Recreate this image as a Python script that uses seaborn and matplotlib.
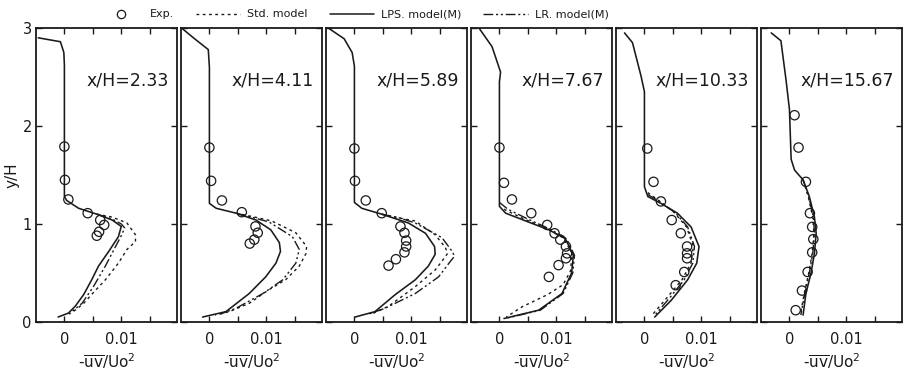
import matplotlib
matplotlib.use("Agg")
import matplotlib.pyplot as plt
from matplotlib.lines import Line2D
import seaborn as sns
import pandas as pd

# ---------------- data ----------------
stations = ["2.33", "4.11", "5.89", "7.67", "10.33", "15.67"]

# x/H = 2.33
lps_x_1 = [-0.0046, -0.0007, -0.0001, 0.0, 0.0, 0.0004, 0.0025, 0.0057, 0.0084, 0.0100, 0.0095, 0.0078, 0.0060, 0.0048, 0.0034, 0.0019, 0.0007, -0.0011]
lps_y_1 = [2.90, 2.86, 2.75, 2.62, 1.28, 1.24, 1.16, 1.10, 1.04, 0.975, 0.87, 0.72, 0.57, 0.43, 0.28, 0.16, 0.09, 0.05]
std_x_1 = [0.0057, 0.0084, 0.0110, 0.0125, 0.0125, 0.0110, 0.0095, 0.0072, 0.0051, 0.0034, 0.0019, 0.0008]
std_y_1 = [1.10, 1.07, 1.01, 0.89, 0.82, 0.74, 0.60, 0.43, 0.30, 0.19, 0.12, 0.08]
lr_x_1 = [0.0057, 0.0084, 0.0100, 0.0106, 0.0100, 0.0090, 0.0072, 0.0051, 0.0031, 0.0013]
lr_y_1 = [1.10, 1.05, 1.00, 0.96, 0.88, 0.77, 0.57, 0.36, 0.19, 0.105]
exp_x_1 = [0.0, 0.0001, 0.0007, 0.0041, 0.0063, 0.0070, 0.0061, 0.0057]
exp_y_1 = [1.79, 1.45, 1.25, 1.11, 1.04, 0.99, 0.92, 0.88]

# x/H = 4.11
lps_x_2 = [-0.0049, -0.0026, -0.0002, 0.0, 0.0, 0.0012, 0.0047, 0.0082, 0.0108, 0.0123, 0.0125, 0.0117, 0.0099, 0.0070, 0.0029, -0.0012]
lps_y_2 = [3.00, 2.89, 2.78, 2.60, 1.21, 1.16, 1.11, 1.04, 0.94, 0.81, 0.72, 0.60, 0.46, 0.29, 0.105, 0.05]
std_x_2 = [0.0047, 0.0080, 0.0110, 0.0152, 0.0171, 0.0170, 0.0158, 0.0134, 0.0105, 0.0070, 0.0035, 0.0010]
std_y_2 = [1.11, 1.07, 1.03, 0.91, 0.77, 0.70, 0.57, 0.43, 0.33, 0.19, 0.105, 0.07]
lr_x_2 = [0.0047, 0.0080, 0.0105, 0.0146, 0.0158, 0.0152, 0.0129, 0.0094, 0.0047, 0.0019]
lr_y_2 = [1.11, 1.06, 1.02, 0.87, 0.74, 0.60, 0.43, 0.29, 0.14, 0.08]
exp_x_2 = [0.0, 0.0003, 0.0022, 0.0057, 0.0081, 0.0085, 0.0079, 0.0071]
exp_y_2 = [1.78, 1.44, 1.24, 1.12, 0.975, 0.91, 0.84, 0.80]

# x/H = 5.89
lps_x_3 = [-0.0046, -0.0018, -0.0004, 0.0, 0.0, 0.0013, 0.0048, 0.0095, 0.0125, 0.0141, 0.0142, 0.0130, 0.0107, 0.0072, 0.0036, 0.0001]
lps_y_3 = [3.00, 2.89, 2.75, 2.61, 1.22, 1.16, 1.10, 1.01, 0.905, 0.77, 0.69, 0.57, 0.43, 0.28, 0.105, 0.05]
std_x_3 = [0.0048, 0.0080, 0.0107, 0.0142, 0.0160, 0.0164, 0.0154, 0.0142, 0.0107, 0.0060, 0.0030]
std_y_3 = [1.10, 1.06, 1.03, 0.89, 0.76, 0.70, 0.62, 0.53, 0.36, 0.16, 0.08]
lr_x_3 = [0.0048, 0.0080, 0.0107, 0.0154, 0.0172, 0.0176, 0.0169, 0.0148, 0.0107, 0.0054, 0.0025]
lr_y_3 = [1.10, 1.06, 1.01, 0.86, 0.72, 0.67, 0.62, 0.46, 0.29, 0.14, 0.08]
exp_x_3 = [0.0, 0.0001, 0.0020, 0.0048, 0.0081, 0.0088, 0.0091, 0.0091, 0.0088, 0.0073, 0.0060]
exp_y_3 = [1.77, 1.44, 1.24, 1.11, 0.975, 0.91, 0.83, 0.77, 0.71, 0.64, 0.575]

# x/H = 7.67
lps_x_4 = [-0.0036, -0.0013, 0.0002, 0.0, 0.0, 0.0011, 0.0051, 0.0087, 0.0116, 0.0130, 0.0127, 0.0110, 0.0069, 0.0008]
lps_y_4 = [3.00, 2.81, 2.55, 2.45, 1.18, 1.11, 1.02, 0.94, 0.85, 0.68, 0.50, 0.29, 0.12, 0.035]
std_x_4 = [0.0008, 0.0040, 0.0080, 0.0112, 0.0128, 0.0125, 0.0112, 0.0085, 0.0060, 0.0040, 0.0012]
std_y_4 = [1.15, 1.06, 0.96, 0.86, 0.70, 0.52, 0.38, 0.28, 0.21, 0.155, 0.05]
lr_x_4 = [0.0, 0.0015, 0.0050, 0.0088, 0.0118, 0.0132, 0.0129, 0.0112, 0.0072, 0.0010]
lr_y_4 = [1.22, 1.15, 1.05, 0.95, 0.85, 0.68, 0.50, 0.29, 0.12, 0.035]
exp_x_4 = [0.0, 0.0008, 0.0022, 0.0056, 0.0084, 0.0097, 0.0107, 0.0117, 0.0119, 0.0117, 0.0104, 0.0087]
exp_y_4 = [1.78, 1.42, 1.25, 1.11, 0.99, 0.905, 0.84, 0.77, 0.70, 0.65, 0.58, 0.46]

# x/H = 10.33
lps_x_5 = [-0.0035, -0.0021, -0.0006, 0.0, 0.0, 0.0006, 0.0029, 0.0058, 0.0082, 0.0096, 0.0092, 0.0076, 0.0047, 0.0018]
lps_y_5 = [2.95, 2.85, 2.51, 2.35, 1.38, 1.28, 1.21, 1.11, 0.97, 0.77, 0.60, 0.43, 0.22, 0.05]
std_x_5 = [0.0006, 0.0025, 0.0052, 0.0074, 0.0086, 0.0082, 0.0066, 0.0040, 0.0015]
std_y_5 = [1.32, 1.24, 1.12, 0.97, 0.77, 0.60, 0.43, 0.25, 0.08]
lr_x_5 = [0.0006, 0.0029, 0.0055, 0.0076, 0.0088, 0.0085, 0.0070, 0.0045, 0.0020]
lr_y_5 = [1.30, 1.22, 1.11, 0.97, 0.77, 0.60, 0.43, 0.25, 0.08]
exp_x_5 = [0.0005, 0.0016, 0.0029, 0.0048, 0.0064, 0.0075, 0.0075, 0.0075, 0.0070, 0.0055]
exp_y_5 = [1.77, 1.43, 1.23, 1.04, 0.905, 0.77, 0.70, 0.65, 0.51, 0.375]

# x/H = 15.67
lps_x_6 = [-0.0032, -0.0015, -0.0006, 0.0, 0.0003, 0.0009, 0.0024, 0.0035, 0.0044, 0.0047, 0.0044, 0.0038, 0.0029, 0.0024]
lps_y_6 = [2.95, 2.87, 2.47, 2.17, 1.66, 1.55, 1.45, 1.28, 1.07, 0.905, 0.70, 0.50, 0.29, 0.07]
std_x_6 = [0.0024, 0.0033, 0.0041, 0.0043, 0.0040, 0.0034, 0.0026, 0.0020]
std_y_6 = [1.45, 1.28, 1.07, 0.905, 0.70, 0.50, 0.29, 0.10]
lr_x_6 = [0.0024, 0.0034, 0.0042, 0.0044, 0.0041, 0.0035, 0.0027, 0.0020]
lr_y_6 = [1.45, 1.28, 1.07, 0.905, 0.70, 0.50, 0.29, 0.07]
exp_x_6 = [0.0009, 0.0016, 0.0029, 0.0036, 0.0040, 0.0042, 0.0040, 0.0032, 0.0022, 0.0011]
exp_y_6 = [2.11, 1.78, 1.43, 1.11, 0.97, 0.845, 0.71, 0.51, 0.32, 0.12]

x_ticks = [0, 0.005, 0.01, 0.015]
x_tick_labels = ["0", "", "0.01", ""]
y_ticks = [0, 1, 2, 3]
y_tick_labels = ["0", "1", "2", "3"]

lps_x = [lps_x_1, lps_x_2, lps_x_3, lps_x_4, lps_x_5, lps_x_6]
lps_y = [lps_y_1, lps_y_2, lps_y_3, lps_y_4, lps_y_5, lps_y_6]
std_x = [std_x_1, std_x_2, std_x_3, std_x_4, std_x_5, std_x_6]
std_y = [std_y_1, std_y_2, std_y_3, std_y_4, std_y_5, std_y_6]
lr_x = [lr_x_1, lr_x_2, lr_x_3, lr_x_4, lr_x_5, lr_x_6]
lr_y = [lr_y_1, lr_y_2, lr_y_3, lr_y_4, lr_y_5, lr_y_6]
exp_x = [exp_x_1, exp_x_2, exp_x_3, exp_x_4, exp_x_5, exp_x_6]
exp_y = [exp_y_1, exp_y_2, exp_y_3, exp_y_4, exp_y_5, exp_y_6]

# ---------------- styling ----------------
sns.set_theme(style="ticks")
plt.rcParams['font.family'] = ['DejaVu Sans']
plt.rcParams['mathtext.fontset'] = 'dejavusans'
plt.rcParams['text.color'] = 'black'
plt.rcParams['axes.labelcolor'] = 'black'
plt.rcParams['xtick.color'] = 'black'
plt.rcParams['ytick.color'] = 'black'

STD_LS = (0, (2.0, 2.5))
LR_LS = (0, (7, 2, 1.5, 2, 1.5, 2))

fig, axes = plt.subplots(1, 6, figsize=(9.06, 3.81), dpi=100, sharey=True)
fig.subplots_adjust(left=0.0397, right=0.9956, bottom=0.155, top=0.9265, wspace=0.0284)

for i, ax in enumerate(axes):
    d_lps = pd.DataFrame({"x": lps_x[i], "y": lps_y[i]})
    d_std = pd.DataFrame({"x": std_x[i], "y": std_y[i]})
    d_lr = pd.DataFrame({"x": lr_x[i], "y": lr_y[i]})
    d_exp = pd.DataFrame({"x": exp_x[i], "y": exp_y[i]})

    sns.lineplot(data=d_std, x="x", y="y", sort=False, estimator=None, ax=ax,
                 color="k", linewidth=1.0, linestyle=STD_LS)
    sns.lineplot(data=d_lr, x="x", y="y", sort=False, estimator=None, ax=ax,
                 color="k", linewidth=1.0, linestyle=LR_LS)
    sns.lineplot(data=d_lps, x="x", y="y", sort=False, estimator=None, ax=ax,
                 color="k", linewidth=1.15)
    sns.scatterplot(data=d_exp, x="x", y="y", ax=ax, marker="o", s=45,
                    facecolor="none", edgecolor="k", linewidth=0.9, zorder=3)

    ax.set_xlim(-0.0050, 0.0198)
    ax.set_ylim(0, 3)
    ax.set_xticks(x_ticks)
    ax.set_xticklabels(x_tick_labels)
    ax.set_yticks(y_ticks)
    ax.set_yticklabels(y_tick_labels)
    ax.tick_params(axis="both", direction="in", top=True, right=True,
                   length=4, width=1.0, labelsize=10.5, colors="k")
    ax.tick_params(axis="x", pad=7)
    ax.tick_params(axis="y", pad=3)
    for sp in ax.spines.values():
        sp.set_visible(True)
        sp.set_linewidth(1.3)
        sp.set_color("k")
    ax.set_xlabel(r"-$\overline{\mathrm{uv}}$/Uo$^2$", fontsize=11, labelpad=3, color="k")
    ax.set_ylabel("")
    ax.text(0.94, 0.82, f"x/H={stations[i]}", transform=ax.transAxes,
            ha="right", va="center", fontsize=12.5, color="k")

axes[0].set_ylabel("y/H", fontsize=11, labelpad=2, color="k")
for ax in axes[1:]:
    ax.tick_params(axis="y", labelleft=False)

handles = [
    Line2D([], [], marker="o", linestyle="none", markerfacecolor="none",
           markeredgecolor="k", markersize=6, markeredgewidth=0.9),
    Line2D([], [], color="k", linestyle=STD_LS, linewidth=1.0),
    Line2D([], [], color="k", linestyle="-", linewidth=1.1),
    Line2D([], [], color="k", linestyle=LR_LS, linewidth=1.0),
]
labels = ["Exp.", "Std. model", "LPS. model(M)", "LR. model(M)"]
leg = fig.legend(handles, labels, loc="center", bbox_to_anchor=(0.39, 0.962), ncol=4,
                 frameon=False, fontsize=8, handlelength=4, columnspacing=2.0,
                 handletextpad=0.6)
for t in leg.get_texts():
    t.set_color("k")

fig.savefig("out.png", dpi=100)
